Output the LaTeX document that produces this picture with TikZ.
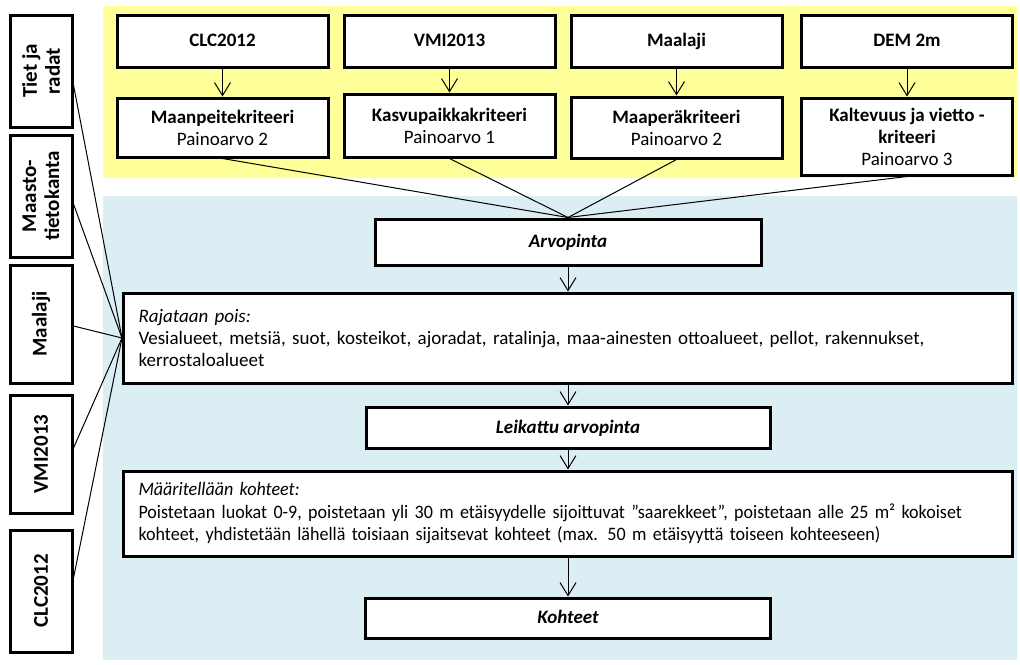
\documentclass[tikz,border=0pt]{standalone}
\usepackage{fontspec}
\setmainfont{Carlito}
\usetikzlibrary{arrows.meta}
\definecolor{critbg}{HTML}{FFFF99}
\definecolor{procbg}{HTML}{DAEEF3}
\begin{document}
\begin{tikzpicture}[x=0.5pt,y=-0.5pt,
  box/.style={draw,line width=1.5pt,fill=white,inner sep=2pt,align=center,font=\fontsize{9.5}{11}\selectfont},
  srcbox/.style={box,minimum width=105.5pt,minimum height=26pt,text height=1.6ex,text depth=.4ex,font=\fontsize{9.5}{11}\selectfont\bfseries},
  critbox/.style={box,minimum width=105.5pt},
  sidebox/.style={box,rotate=90,minimum height=31pt,font=\fontsize{10.5}{11.5}\selectfont\bfseries},
  resbox/.style={box,text height=1.6ex,text depth=.4ex,font=\fontsize{9.5}{11}\selectfont\bfseries\itshape},
  stepbox/.style={box,text width=429.5pt,inner xsep=7.5pt,align=left},
  arr/.style={-{Straight Barb[length=6.5pt,width=8pt]},line width=0.5pt},
  lnk/.style={line width=0.5pt}]
\useasboundingbox (0,0) rectangle (1020,664);
% taustat
\fill[critbg] (103,6) rectangle (1017,178);
\fill[procbg] (103,196) rectangle (1017,660);
% aineistot
\node[srcbox] (clc) at (222.5,41) {CLC2012};
\node[srcbox] (vmi) at (449.5,41) {VMI2013};
\node[srcbox] (maalaji) at (676.5,41) {Maalaji};
\node[srcbox] (dem) at (907,41) {DEM 2m};
% kriteerit
\node[critbox,minimum height=29.5pt] (maanp) at (222.5,127.5) {\textbf{Maanpeitekriteeri}\\Painoarvo 2};
\node[critbox,minimum height=31.5pt] (kasvu) at (449.5,125.5) {\textbf{Kasvupaikkakriteeri}\\Painoarvo 1};
\node[critbox,minimum height=30.5pt] (maaper) at (676.5,127.5) {\textbf{Maaperäkriteeri}\\Painoarvo 2};
\node[critbox,minimum height=38.5pt] (kalt) at (907,136.5) {\textbf{Kaltevuus ja vietto -}\\\textbf{kriteeri}\\Painoarvo 3};
% prosessi
\node[resbox,minimum width=193pt,minimum height=23pt] (arvo) at (568,242) {Arvopinta};
\node[stepbox,minimum height=45pt] (raja) at (568,338) {\textit{Rajataan pois:}\\Vesialueet, metsiä, suot, kosteikot, ajoradat, ratalinja, maa-ainesten ottoalueet, pellot, rakennukset,\\kerrostaloalueet};
\node[resbox,minimum width=202pt,minimum height=20.5pt] (leik) at (568,427.5) {Leikattu arvopinta};
\node[stepbox,minimum height=42.5pt,font=\fontsize{9.5}{11.25}\selectfont\addfontfeature{FakeStretch=0.95}] (maar) at (568,513.5) {\textit{Määritellään kohteet:}\\Poistetaan luokat 0-9, poistetaan yli 30 m etäisyydelle sijoittuvat ”saarekkeet”, poistetaan alle 25 m² kokoiset\\kohteet, yhdistetään lähellä toisiaan sijaitsevat kohteet (max. 50 m etäisyyttä toiseen kohteeseen)};
\node[resbox,minimum width=202.5pt,minimum height=20pt] (koht) at (568,618) {Kohteet};
% rajausaineistot
\node[sidebox,minimum width=56pt] (tiet) at (41,71) {Tiet ja\\radat};
\node[sidebox,minimum width=61pt] (maasto) at (41,196) {Maasto-\\tietokanta};
\node[sidebox,minimum width=59pt] (maalajiL) at (41,324) {Maalaji};
\node[sidebox,minimum width=59pt] (vmiL) at (41,454) {VMI2013};
\node[sidebox,minimum width=61pt] (clcL) at (41,591) {CLC2012};
% yhteydet
\foreach \s/\t in {clc/maanp,vmi/kasvu,maalaji/maaper,dem/kalt}
  \draw[arr] (\s) -- (\t);
\foreach \n in {maanp,kasvu,maaper,kalt}
  \draw[lnk] (\n.south) -- (arvo.north);
\foreach \n/\d in {tiet/-7,maasto/-4,maalajiL/-1,vmiL/3,clcL/6.5}
  \draw[lnk] ([yshift=\d pt]\n.south) -- (raja.west);
\draw[arr] (arvo) -- (raja);
\draw[arr] (raja) -- (leik);
\draw[arr] (leik) -- (maar);
\draw[arr] (maar) -- (koht);
\end{tikzpicture}
\end{document}
